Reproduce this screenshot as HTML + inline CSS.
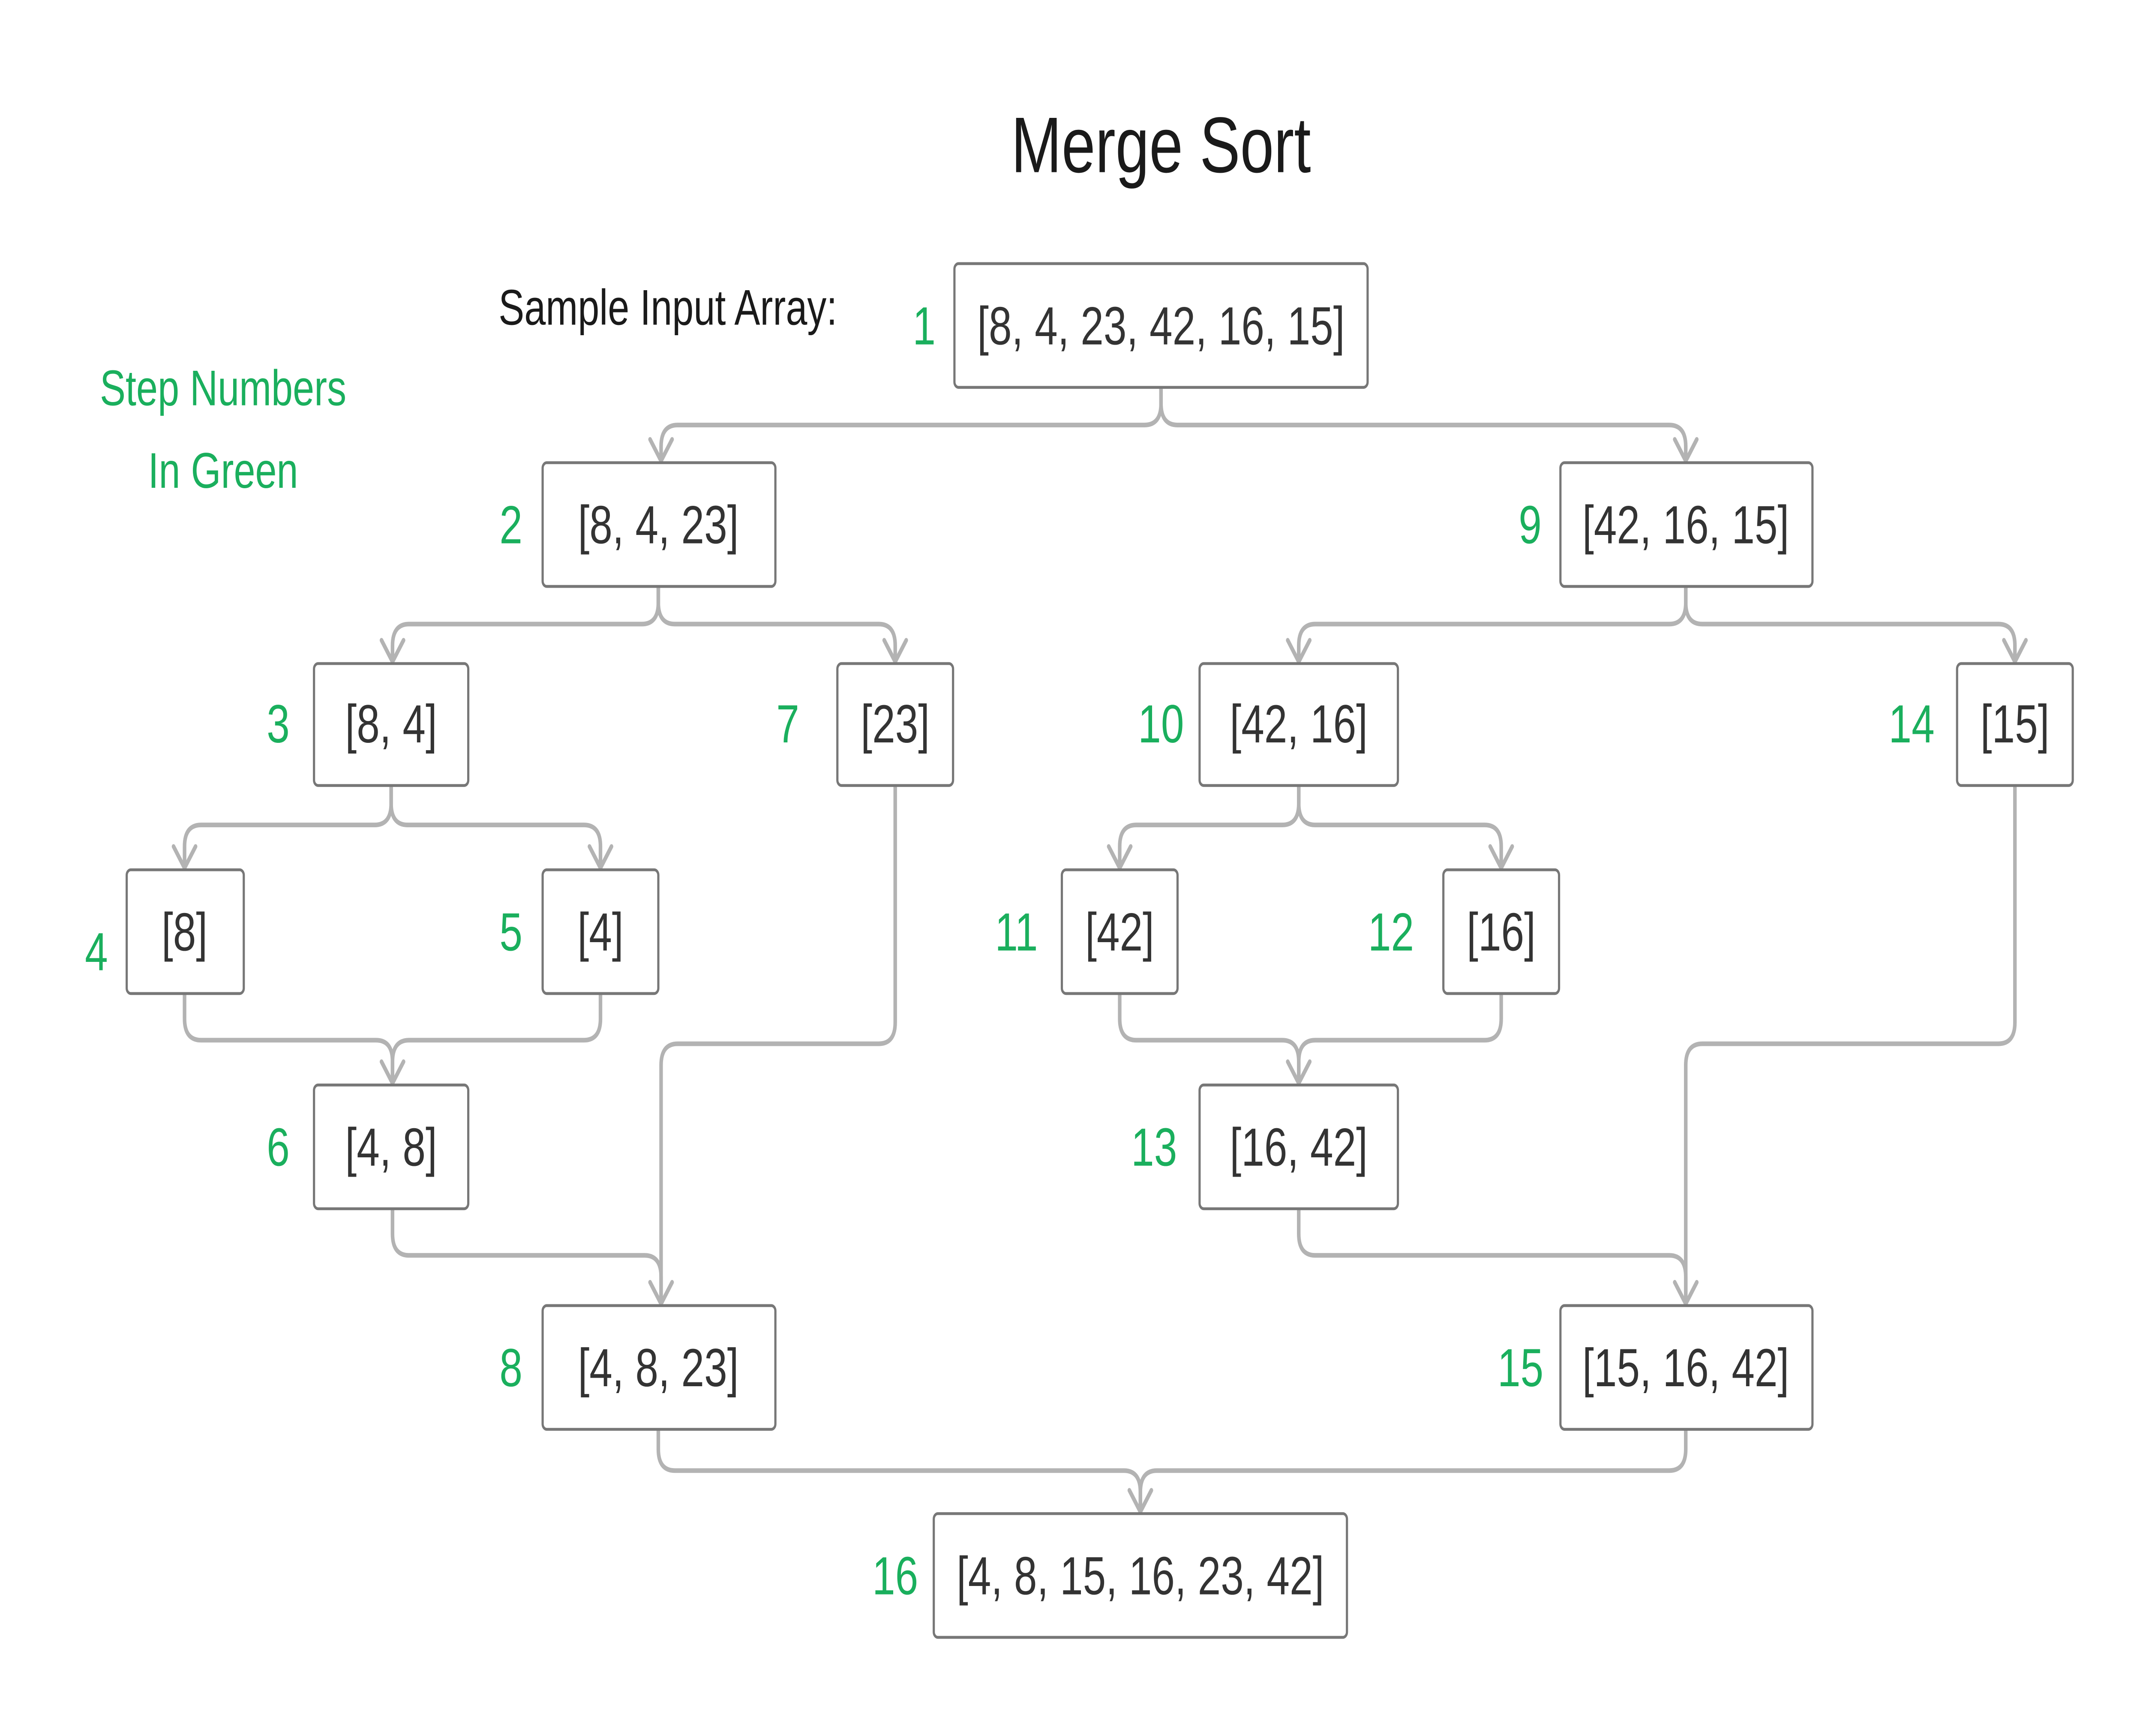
<!DOCTYPE html>
<html><head><meta charset="utf-8"><style>html,body{margin:0;padding:0;background:#fff;width:100%;height:100%;overflow:hidden}svg{display:block;position:fixed;left:0;top:0;width:100vw;height:100vh}</style></head>
<body>
<svg viewBox="0 0 1556 968" preserveAspectRatio="none" xmlns="http://www.w3.org/2000/svg">
<rect width="1556" height="968" fill="#fff"/>
<g fill="none" stroke="#b3b3b3" stroke-width="2.6" stroke-linecap="round" stroke-linejoin="round">
<path d="M843 216 V225 Q843 237 831 237 H492 Q480 237 480 249 V258"/>
<path d="M843 216 V225 Q843 237 855 237 H1212 Q1224 237 1224 249 V258"/>
<path d="M478 327 V336 Q478 348 466 348 H297 Q285 348 285 360 V370"/>
<path d="M478 327 V336 Q478 348 490 348 H638 Q650 348 650 360 V370"/>
<path d="M1224 327 V336 Q1224 348 1212 348 H955 Q943 348 943 360 V370"/>
<path d="M1224 327 V336 Q1224 348 1236 348 H1451 Q1463 348 1463 360 V370"/>
<path d="M284 438 V448 Q284 460 272 460 H146 Q134 460 134 472 V485"/>
<path d="M284 438 V448 Q284 460 296 460 H424 Q436 460 436 472 V485"/>
<path d="M943 438 V448 Q943 460 931 460 H825 Q813 460 813 472 V485"/>
<path d="M943 438 V448 Q943 460 955 460 H1078 Q1090 460 1090 472 V485"/>
<path d="M134 554 V568 Q134 580 146 580 H273 Q285 580 285 592 V605"/>
<path d="M436 554 V568 Q436 580 424 580 H297 Q285 580 285 592 V605"/>
<path d="M813 554 V568 Q813 580 825 580 H931 Q943 580 943 592 V605"/>
<path d="M1090 554 V568 Q1090 580 1078 580 H955 Q943 580 943 592 V605"/>
<path d="M650 438 V570 Q650 582 638 582 H492 Q480 582 480 594 V728"/>
<path d="M285 674 V688 Q285 700 297 700 H468 Q480 700 480 712 V728"/>
<path d="M1463 438 V570 Q1463 582 1451 582 H1236 Q1224 582 1224 594 V728"/>
<path d="M943 674 V688 Q943 700 955 700 H1212 Q1224 700 1224 712 V728"/>
<path d="M478 797 V808 Q478 820 490 820 H816 Q828 820 828 832 V844"/>
<path d="M1224 797 V808 Q1224 820 1212 820 H840 Q828 820 828 832 V844"/>
<polyline points="472,245 480,257 488,245"/>
<polyline points="1216,245 1224,257 1232,245"/>
<polyline points="277,357 285,369 293,357"/>
<polyline points="642,357 650,369 658,357"/>
<polyline points="935,357 943,369 951,357"/>
<polyline points="1455,357 1463,369 1471,357"/>
<polyline points="126,472 134,484 142,472"/>
<polyline points="428,472 436,484 444,472"/>
<polyline points="805,472 813,484 821,472"/>
<polyline points="1082,472 1090,484 1098,472"/>
<polyline points="277,592 285,604 293,592"/>
<polyline points="935,592 943,604 951,592"/>
<polyline points="472,715 480,727 488,715"/>
<polyline points="1216,715 1224,727 1232,715"/>
<polyline points="820,831 828,843 836,831"/>
</g>
<g fill="#fff" stroke="#777" stroke-width="1.6">
<rect x="693" y="147" width="300" height="69" rx="3"/>
<rect x="394" y="258" width="169" height="69" rx="3"/>
<rect x="1133" y="258" width="183" height="69" rx="3"/>
<rect x="228" y="370" width="112" height="68" rx="3"/>
<rect x="608" y="370" width="84" height="68" rx="3"/>
<rect x="871" y="370" width="144" height="68" rx="3"/>
<rect x="1421" y="370" width="84" height="68" rx="3"/>
<rect x="92" y="485" width="85" height="69" rx="3"/>
<rect x="394" y="485" width="84" height="69" rx="3"/>
<rect x="771" y="485" width="84" height="69" rx="3"/>
<rect x="1048" y="485" width="84" height="69" rx="3"/>
<rect x="228" y="605" width="112" height="69" rx="3"/>
<rect x="871" y="605" width="144" height="69" rx="3"/>
<rect x="394" y="728" width="169" height="69" rx="3"/>
<rect x="1133" y="728" width="183" height="69" rx="3"/>
<rect x="678" y="844" width="300" height="69" rx="3"/>
</g>
<g font-family="Liberation Sans, sans-serif" font-size="30" fill="#333" text-anchor="middle">
<text x="843" y="192">[8, 4, 23, 42, 16, 15]</text>
<text x="478" y="303">[8, 4, 23]</text>
<text x="1224" y="303">[42, 16, 15]</text>
<text x="284" y="414">[8, 4]</text>
<text x="650" y="414">[23]</text>
<text x="943" y="414">[42, 16]</text>
<text x="1463" y="414">[15]</text>
<text x="134" y="530">[8]</text>
<text x="436" y="530">[4]</text>
<text x="813" y="530">[42]</text>
<text x="1090" y="530">[16]</text>
<text x="284" y="650">[4, 8]</text>
<text x="943" y="650">[16, 42]</text>
<text x="478" y="773">[4, 8, 23]</text>
<text x="1224" y="773">[15, 16, 42]</text>
<text x="828" y="889">[4, 8, 15, 16, 23, 42]</text>
</g>
<g font-family="Liberation Sans, sans-serif" font-size="30" fill="#1aaf5d" text-anchor="middle">
<text x="671" y="192">1</text>
<text x="371" y="303">2</text>
<text x="1111" y="303">9</text>
<text x="202" y="414">3</text>
<text x="572" y="414">7</text>
<text x="843" y="414">10</text>
<text x="1388" y="414">14</text>
<text x="70" y="541">4</text>
<text x="371" y="530">5</text>
<text x="738" y="530">11</text>
<text x="1010" y="530">12</text>
<text x="202" y="650">6</text>
<text x="838" y="650">13</text>
<text x="371" y="773">8</text>
<text x="1104" y="773">15</text>
<text x="650" y="889">16</text>
<text x="162" y="226" font-size="28">Step Numbers</text>
<text x="162" y="272" font-size="28">In Green</text>
</g>
<text x="843" y="96" font-family="Liberation Sans, sans-serif" font-size="44" fill="#1a1a1a" text-anchor="middle">Merge Sort</text>
<text x="362" y="181" font-family="Liberation Sans, sans-serif" font-size="28" fill="#1a1a1a">Sample Input Array:</text>
</svg>
</body></html>
